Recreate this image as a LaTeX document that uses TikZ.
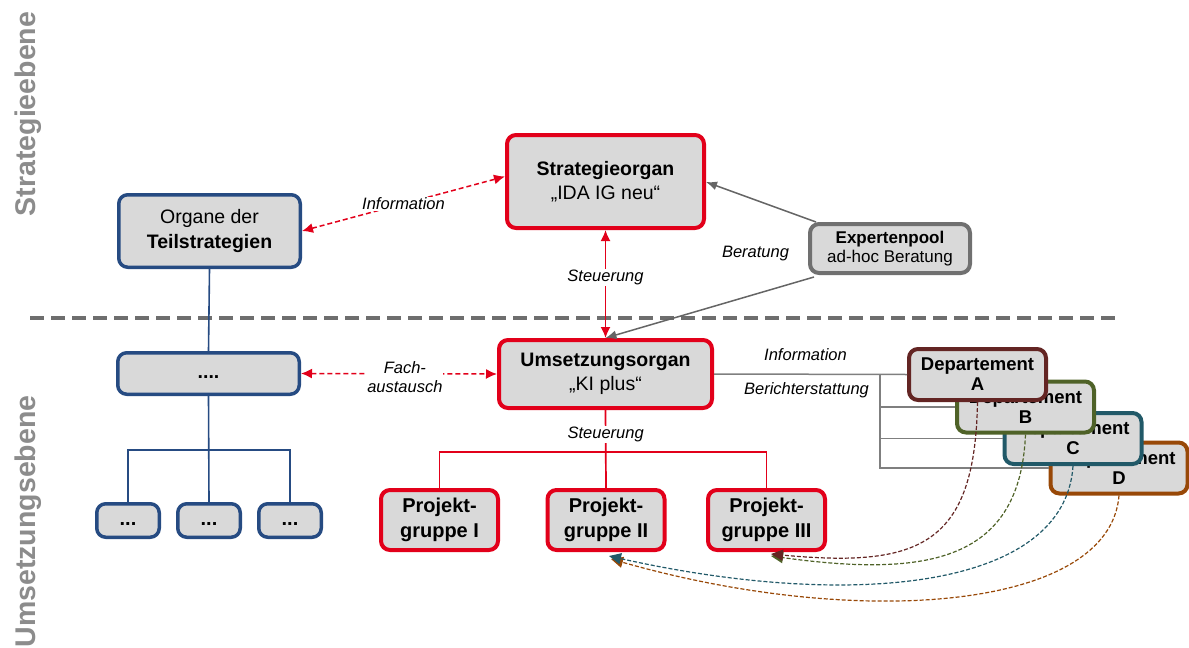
\documentclass[tikz,border=0pt]{standalone}
\usepackage{fontspec}
\setmainfont{Liberation Sans}
\usetikzlibrary{arrows.meta,calc}

\definecolor{boxgray}{HTML}{D9D9D9}
\definecolor{orgred}{HTML}{E2001A}
\definecolor{orgblue}{HTML}{264B82}
\definecolor{poolgray}{HTML}{707070}
\definecolor{linegray}{HTML}{7F7F7F}
\definecolor{sepgray}{HTML}{6E6E6E}
\definecolor{levelgray}{HTML}{8C8C8C}
\definecolor{depa}{HTML}{632523}
\definecolor{depb}{HTML}{4F6228}
\definecolor{depc}{HTML}{215968}
\definecolor{depd}{HTML}{984807}

\newcommand{\fsz}[2]{\fontsize{#1}{#2}\selectfont}

\tikzset{
  box/.style={rounded corners=9pt, fill=boxgray, line width=4pt, align=center, inner sep=0pt, text=black},
  redbox/.style={box, draw=orgred},
  bluebox/.style={box, draw=orgblue, line width=3.5pt},
  poolbox/.style={box, draw=poolgray},
  depbox/.style={box, minimum width=137, minimum height=51, font=\bfseries\fsz{18.5}{20}},
  pgbox/.style={redbox, minimum width=117, minimum height=60, font=\bfseries\fsz{20}{25}},
  smallbox/.style={bluebox, minimum width=62.5, minimum height=33.5, font=\bfseries\fsz{20}{24}},
  lbl/.style={font=\itshape\fsz{16.5}{19}, text=black, inner sep=1pt, align=center},
  lblw/.style={lbl, fill=white},
  reddash/.style={draw=orgred, line width=1.5pt, dash pattern=on 5pt off 3pt},
  redline/.style={draw=orgred, line width=1.7pt},
  redtip/.style={{Latex[length=11pt,width=10pt]}-{Latex[length=11pt,width=10pt]}},
  bluel/.style={draw=orgblue, line width=1.6pt},
  grayl/.style={draw=linegray, line width=1.5pt},
  beratl/.style={draw=poolgray!90!black, line width=1.5pt, -{Latex[length=11pt,width=9pt]}},
  dcurve/.style={line width=1.2pt, dash pattern=on 4pt off 2pt, -{Triangle[length=12pt,width=11pt]}},
  level/.style={rotate=90, anchor=base, text=levelgray, font=\bfseries\fsz{28.5}{30}}
}

\begin{document}
\begin{tikzpicture}[x=1pt,y=-1pt]
\useasboundingbox (0,0) rectangle (1189,648);

% level captions and separator
\node[level] (lvs) at (35,114) {Strategieebene};
\node[level] (lvu) at (35,521.5) {Umsetzungsebene};
\coordinate (sepL) at (30,318);
\coordinate (sepR) at (1120,318);
\draw[sepgray, line width=4pt, dash pattern=on 14pt off 7pt] (sepL) -- (sepR);

% strategic level
\node[redbox, minimum width=197, minimum height=93, font=\fsz{19.5}{24}] (strat) at (605.5,181.5)
  {\textbf{Strategieorgan}\\„IDA IG neu“};
\node[bluebox, minimum width=181.5, minimum height=72.5, font=\fsz{19.5}{25}] (org) at (209.5,231)
  {Organe der\\\textbf{Teilstrategien}};
\node[poolbox, minimum width=160, minimum height=49, font=\fsz{17}{19.5}] (exp) at (890,248.5)
  {\textbf{Expertenpool}\\ad-hoc Beratung};

% implementation level
\node[redbox, minimum width=213, minimum height=68, font=\fsz{19.5}{24}] (ums) at (605.5,374)
  {\textbf{Umsetzungsorgan}\\„KI plus“};
\node[bluebox, minimum width=181.5, minimum height=41.5, font=\bfseries\fsz{19.5}{24}] (dots) at (208.5,373.5)
  {\vphantom{Ay}....};
\node[smallbox] (s1) at (128,520.5) {\vphantom{Ay}...};
\node[smallbox] (s2) at (209,520.5) {\vphantom{Ay}...};
\node[smallbox] (s3) at (290,520.5) {\vphantom{Ay}...};

\node[pgbox] (pg1) at (439.5,520) {Projekt-\\gruppe I};
\node[pgbox] (pg2) at (606,520) {Projekt-\\gruppe II};
\node[pgbox] (pg3) at (766.5,520) {Projekt-\\gruppe III};

% departments, stacked from back to front
\node[depbox, draw=depd] (depD) at (1119,468) {Departement\\D};
\node[depbox, draw=depc] (depC) at (1073,438.5) {Departement\\C};
\node[depbox, draw=depb] (depB) at (1025.5,407) {Departement\\B};
\node[depbox, draw=depa] (depA) at (977.5,374.5) {Departement\\A};

% information / reporting lines to the departments
\coordinate (jn) at (880,374);
\draw[grayl] (ums.east) -- (depA.west);
\draw[grayl] (jn) |- (depB.west);
\draw[grayl] (jn) |- (depC.west);
\draw[grayl] (jn) |- (depD.west);
\node[lbl] (linfo) at (805.5,355) {Information};
\node[lbl] (lber) at (806.5,390) {Berichterstattung};

% red relations
\draw[reddash, redtip] (org.east) -- ($(strat.west)+(0,-5)$)
  node[lblw, midway] (linf) {Information};
\draw[redline, redtip] (strat.south) -- (ums.north)
  node[lblw, pos=0.44] (lst1) {Steuerung};
\draw[reddash, redtip] (dots.east) -- (ums.west)
  node[lblw, pos=0.53, yshift=-3pt, font=\itshape\fsz{16.5}{19}] (lfach) {Fach-\\austausch};

% steering of the project groups
\draw[redline] (ums.south) -- (pg2.north)
  node[lblw, pos=0.31] (lst2) {Steuerung};
\draw[redline] (pg1.north) -- ++(0,-36) -| (pg3.north);

% consulting by the expert pool
\draw[beratl] ($(exp.north west)+(8,0)$) -- ($(strat.east)+(0,0.5)$);
\draw[beratl] ($(exp.south west)+(6,2)$) -- (ums.north);
\node[lbl] (lberat) at (755.5,253.5) {Beratung};

% left hand tree
\draw[bluel] (org.south) -- (dots.north);
\draw[bluel] (dots.south) -- (s2.north);
\draw[bluel] (s1.north) -- ++(0,-52) -| (s3.north);

% feedback from the departments to the project groups
\coordinate (tip3a) at (771,554);
\coordinate (tip3b) at (771,556);
\coordinate (tip2a) at (609,556);
\coordinate (tip2b) at (611,559);
\draw[dcurve, depb] (depB.south) .. controls (1020,560) and (930,578) .. (tip3b);
\draw[dcurve, depa] (depA.south) .. controls (975,545) and (920,568) .. (tip3a);
\draw[dcurve, depd] (depD.south) .. controls (1110,610) and (860,630) .. (tip2b);
\draw[dcurve, depc] (depC.south) .. controls (1065,590) and (850,610) .. (tip2a);
\end{tikzpicture}
\end{document}
